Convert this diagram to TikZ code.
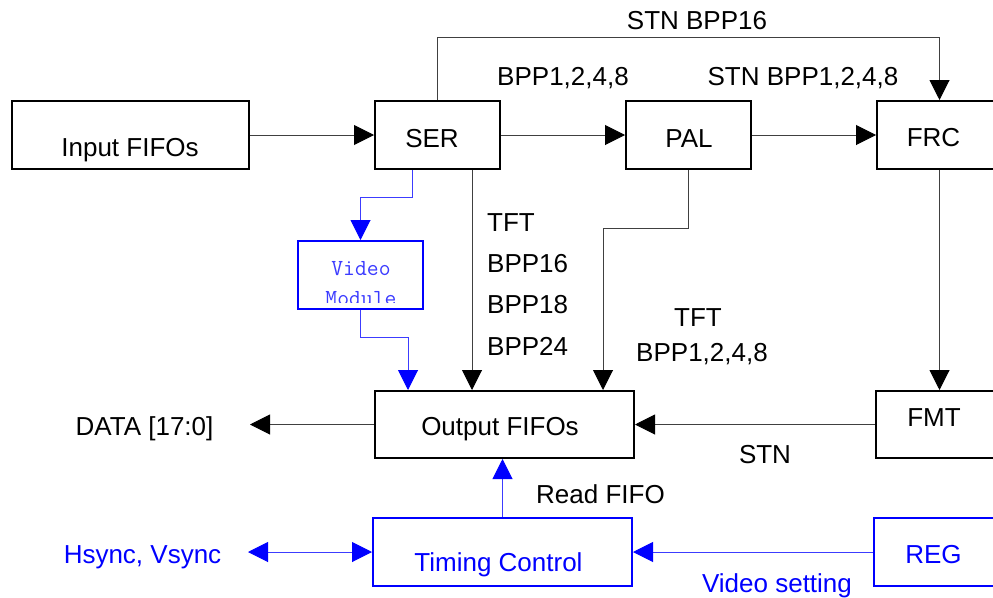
\documentclass[tikz,border=0pt]{standalone}
\usepackage{fontspec}
\setmainfont{Liberation Sans}
\usetikzlibrary{arrows.meta}
\definecolor{lineblue}{RGB}{60,60,255}
\begin{document}
\begin{tikzpicture}[x=1pt,y=-1pt,
  box/.style={draw=black,line width=2pt,inner sep=0pt,minimum width=125pt,minimum height=68pt},
  bbox/.style={draw=blue,line width=2pt,inner sep=0pt,minimum width=125pt,minimum height=68pt},
  conn/.style={draw=black!75,line width=1pt,-{Triangle[length=20pt,width=20pt,color=black]}},
  bconn/.style={draw=lineblue,line width=1pt,-{Triangle[length=20pt,width=20pt,color=blue]}},
  lbl/.style={font=\fontsize{26}{30}\selectfont,inner sep=0pt,anchor=base,text=black},
  blbl/.style={lbl,text=blue},
]
\clip (0,0) rectangle (993,597);
\fill[white] (0,0) rectangle (993,597);

% boxes
\node[box,minimum width=237pt] (inp) at (130.5,135) {};
\node[box] (ser) at (437.5,135) {};
\node[box] (pal) at (688.5,135) {};
\node[box] (frc) at (939.5,135) {};
\node[box,minimum width=259pt,minimum height=67pt] (out) at (504.5,424.5) {};
\node[box,minimum height=67pt] (fmt) at (938.5,424.5) {};
\node[bbox] (vm) at (360.5,275) {};
\node[bbox,minimum width=259pt] (tc) at (502.5,552) {};
\node[bbox] (reg) at (936.5,552) {};

% free ends
\coordinate (dataend) at (250,424.5);
\coordinate (hsend) at (248,552);

% box texts
\node[lbl] (tinp) at (130,156) {Input FIFOs};
\node[lbl] (tser) at (432,147) {SER};
\node[lbl] (tpal) at (689,147) {PAL};
\node[lbl] (tfrc) at (933.5,146) {FRC};
\node[lbl] (tout) at (500,435) {Output FIFOs};
\node[lbl] (tfmt) at (934,426) {FMT};
\node[blbl] (ttc) at (498.5,571) {Timing Control};
\node[blbl] (treg) at (933.5,563) {REG};
\begin{scope}
  \clip (299,242) rectangle (422,302.5);
  \node[font=\fontsize{23}{27}\ttfamily,text=lineblue,inner sep=0pt,anchor=base] (tvm1) at (361,275) {Video};
  \node[font=\fontsize{23}{27}\ttfamily,text=lineblue,inner sep=0pt,anchor=base] (tvm2) at (361,305) {Module};
\end{scope}

% connectors
\draw[conn] (inp.east) -- (ser.west);
\draw[conn] (ser.east) -- (pal.west);
\draw[conn] (pal.east) -- (frc.west);
\draw[conn] (ser.north) -- ++(0,-63) -| (frc.north);
\draw[conn] ([xshift=34.5pt]ser.south) -- ([xshift=-32.5pt]out.north);
\draw[conn] (pal.south) -- ++(0,58) -| ([xshift=98.5pt]out.north);
\draw[conn] (frc.south) -- (frc.south |- fmt.north);
\draw[conn] (fmt.west) -- (out.east);
\draw[conn] (out.west) -- (dataend);
\draw[bconn] ([xshift=-25.5pt]ser.south) -- ++(0,27) -| (vm.north);
\draw[bconn] (vm.south) -- ++(0,27) -| ([xshift=-96.5pt]out.north);
\draw[bconn] (tc.north) -- (tc.north |- out.south);
\draw[bconn,{Triangle[length=20pt,width=20pt,color=blue]}-{Triangle[length=20pt,width=20pt,color=blue]}] (hsend) -- (tc.west);
\draw[bconn] (reg.west) -- (tc.east);

% labels
\node[lbl] (lstn16) at (697,29) {STN BPP16};
\node[lbl] (lbpp) at (563,85) {BPP1,2,4,8};
\node[lbl] (lstnbpp) at (803,85) {STN BPP1,2,4,8};
\node[lbl,anchor=base west] (ltft) at (487,231) {TFT};
\node[lbl,anchor=base west] (l16) at (487,272) {BPP16};
\node[lbl,anchor=base west] (l18) at (487,313) {BPP18};
\node[lbl,anchor=base west] (l24) at (487,355) {BPP24};
\node[lbl] (ltft2) at (698,326) {TFT};
\node[lbl] (lbpp2) at (702,361) {BPP1,2,4,8};
\node[lbl] (ldata) at (144.5,435) {DATA [17:0]};
\node[lbl] (lstn) at (765,463) {STN};
\node[lbl,anchor=base west] (lread) at (536,503) {Read FIFO};
\node[blbl] (lhs) at (142.5,563) {Hsync, Vsync};
\node[blbl] (lvs) at (777,592) {Video setting};
\end{tikzpicture}
\end{document}
